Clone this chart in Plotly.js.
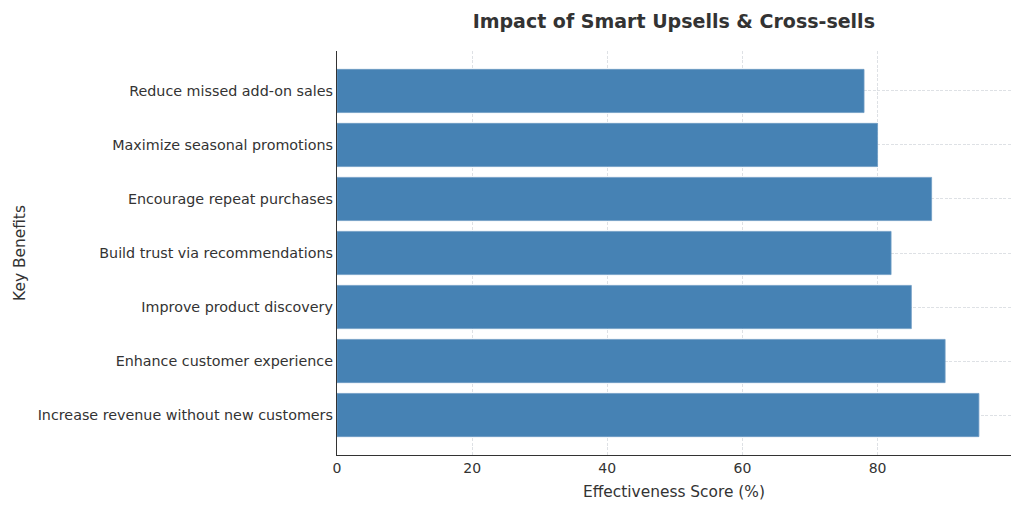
<!DOCTYPE html>
<html>
<head>
<meta charset="utf-8">
<script src="https://cdn.plot.ly/plotly-3.0.1.min.js"></script>
<style>html,body{margin:0;padding:0;background:#fff;}#chart{width:1024px;height:512px;}</style>
</head>
<body>
<div id="chart"></div>
<script>
const categories = [
  "Increase revenue without new customers",
  "Enhance customer experience",
  "Improve product discovery",
  "Build trust via recommendations",
  "Encourage repeat purchases",
  "Maximize seasonal promotions",
  "Reduce missed add-on sales"
];
const scores = [95, 90, 85, 82, 88, 80, 78];
const xTicks = [0, 20, 40, 60, 80];

const trace = {
  type: "bar",
  orientation: "h",
  y: categories.map((_, i) => i),
  x: scores,
  width: 0.8,
  marker: {color: "#4682B4", line: {color: "#6f9cc4", width: 0.8}},
  hoverinfo: "x+text",
  text: categories,
  textposition: "none"
};

const layout = {
  width: 1024, height: 512,
  margin: {l: 337, r: 13, t: 51, b: 57},
  paper_bgcolor: "#fff", plot_bgcolor: "#fff",
  font: {family: "DejaVu Sans", color: "#262626"},
  title: {text: "<b>Impact of Smart Upsells &amp; Cross-sells</b>", x: 0.658, xanchor: "center", y: 0.958, yanchor: "middle", font: {size: 19, color: "#333333", family: "DejaVu Sans"}},
  showlegend: false,
  bargap: 0.2,
  xaxis: {
    range: [0, 99.75], tickvals: xTicks, ticktext: xTicks.map(String),
    showgrid: true, gridcolor: "#d6d9de", griddash: "3px,1.5px", gridwidth: 0.8,
    showline: true, linecolor: "#333333", linewidth: 1.2,
    ticks: "",
    ticklabelstandoff: 0,
    tickfont: {size: 14, color: "#333333"}, zeroline: false,
    title: {text: "Effectiveness Score (%)", font: {size: 15.4, color: "#333333"}, standoff: 11}
  },
  yaxis: {
    range: [-0.74, 6.74], tickvals: categories.map((_, i) => i), ticktext: categories,
    showgrid: true, gridcolor: "#d6d9de", griddash: "3px,1.5px", gridwidth: 0.8,
    showline: true, linecolor: "#333333", linewidth: 1.2,
    ticks: "",
    ticklabelstandoff: 0,
    tickfont: {size: 14.3, color: "#333333"}, zeroline: false,
    title: {text: "Key Benefits", font: {size: 15.4, color: "#333333"}, standoff: 8}
  }
};

Plotly.newPlot("chart", [trace], layout, {displayModeBar: false, staticPlot: true});
</script>
</body>
</html>
